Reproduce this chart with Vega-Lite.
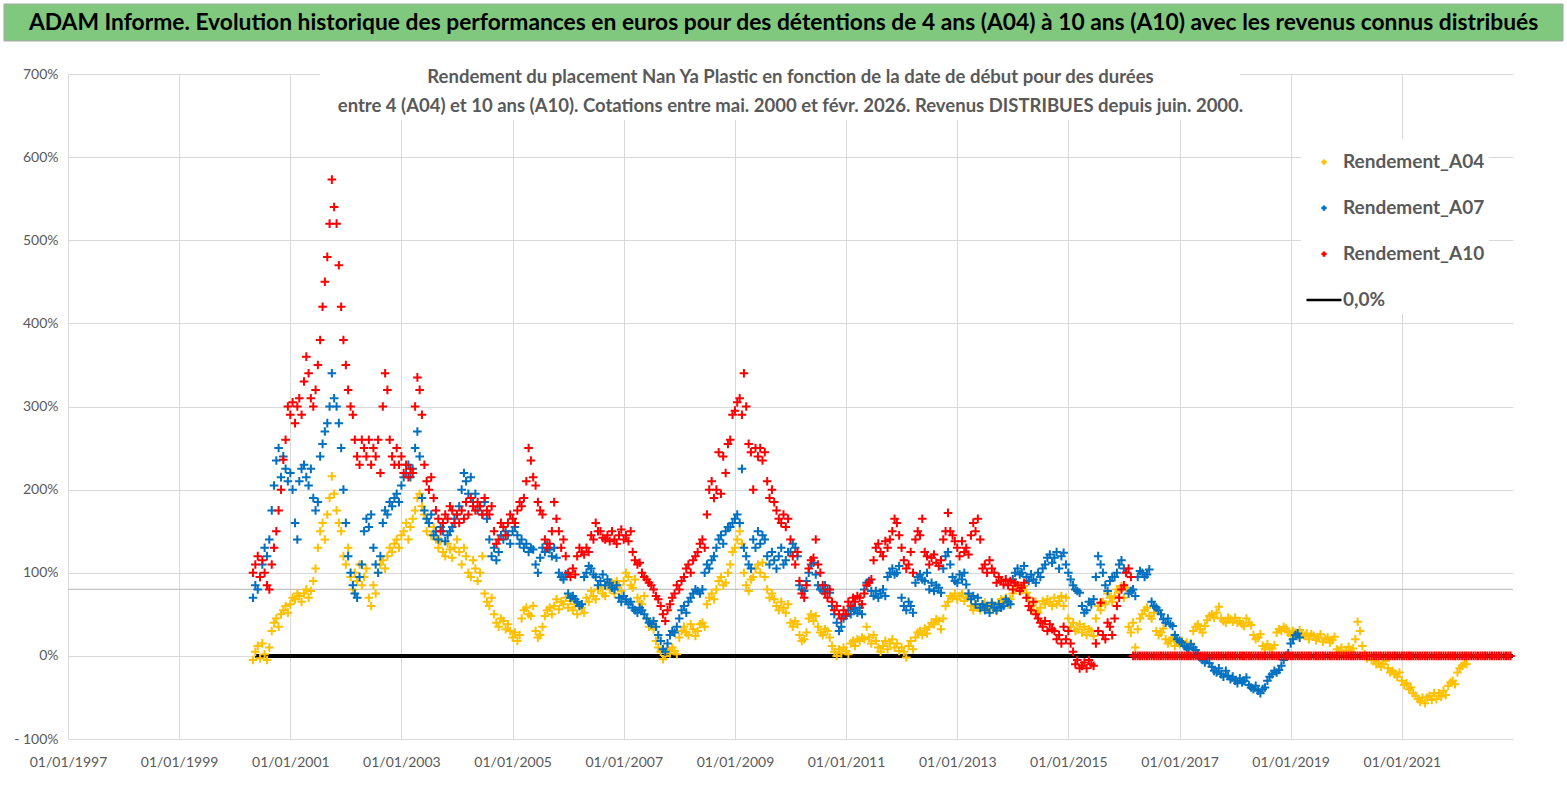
{
  "$schema": "https://vega.github.io/schema/vega-lite/v6.json",
  "background": "white",
  "padding": {"left": 3, "top": 3, "right": 5, "bottom": 5},
  "spacing": 25,
  "resolve": {"legend": {"color": "independent", "shape": "independent"}},
  "config": {
    "view": {"stroke": null},
    "font": "Lato",
    "axis": {"labelFont": "Lato", "labelColor": "#595959", "labelFontSize": 14, "gridColor": "#d9d9d9", "domain": false, "ticks": false}
  },
  "vconcat": [
    {
      "width": 1445,
      "height": 37,
      "data": {"values": [{}]},
      "layer": [
        {
          "mark": {"type": "rect", "fill": "#80C87E", "stroke": "#a6a6a6", "strokeWidth": 1},
          "encoding": {
            "x": {"datum": -0.0443, "type": "quantitative", "scale": {"domain": [0, 1], "nice": false, "zero": false}, "axis": null},
            "x2": {"datum": 1.0346}
          }
        },
        {
          "mark": {"type": "text", "font": "Lato", "fontSize": 22.8, "fontWeight": "bold", "color": "black", "baseline": "middle", "align": "center"},
          "encoding": {
            "x": {"datum": 0.4952, "type": "quantitative"},
            "text": {"value": "ADAM Informe. Evolution historique des performances en euros pour des détentions de 4 ans (A04) à 10 ans (A10) avec les revenus connus distribués"}
          }
        }
      ]
    },
    {
      "width": 1445,
      "height": 665,
      "title": {
        "text": ["Rendement du placement Nan Ya Plastic  en fonction de la date de début pour des durées", "entre 4 (A04) et 10 ans (A10). Cotations entre mai. 2000 et févr. 2026. Revenus DISTRIBUES depuis juin. 2000."],
        "anchor": "middle",
        "frame": "group",
        "offset": -48,
        "font": "Lato",
        "fontSize": 18.5,
        "fontWeight": "bold",
        "color": "#595959",
        "lineHeight": 29
      },
      "layer": [
        {
          "data": {"values": [{}]},
          "mark": {"type": "rule", "color": "#c4c4c4", "strokeWidth": 1.3},
          "encoding": {"y": {"datum": 80, "type": "quantitative"}}
        },
        {
          "data": {"values": [{}]},
          "mark": {"type": "rect", "fill": "white"},
          "encoding": {
            "x": {"datum": {"year": 2001, "month": 7, "date": 15, "utc": true}, "type": "temporal", "scale": {"type": "utc"}},
            "x2": {"datum": {"year": 2018, "month": 2, "date": 1, "utc": true}},
            "y": {"datum": 705, "type": "quantitative"},
            "y2": {"datum": 645}
          }
        },
        {
          "data": {"values": [{"d": "2000-05-15", "z": 0}, {"d": "2022-12-31", "z": 0}]},
          "mark": {"type": "line", "color": "black", "strokeWidth": 4},
          "encoding": {
            "x": {"field": "d", "type": "temporal", "scale": {"type": "utc"}},
            "y": {"field": "z", "type": "quantitative"}
          }
        },
        {
          "data": {"values": [
{"d":"2000-05-01","A04":-5,"A07":70,"A10":100},
{"d":"2000-05-16","A04":5,"A07":85,"A10":110},
{"d":"2000-06-01","A04":12,"A07":80,"A10":120},
{"d":"2000-06-16","A04":-3,"A07":95,"A10":95},
{"d":"2000-07-01","A04":15,"A07":110,"A10":115},
{"d":"2000-07-16","A04":2,"A07":130,"A10":100},
{"d":"2000-08-01","A04":-5,"A07":120,"A10":85},
{"d":"2000-08-16","A04":10,"A07":140,"A10":80},
{"d":"2000-09-01","A04":30,"A07":175,"A10":110},
{"d":"2000-09-16","A04":40,"A07":205,"A10":130},
{"d":"2000-10-01","A04":45,"A07":235,"A10":150},
{"d":"2000-10-16","A04":35,"A07":250,"A10":175},
{"d":"2000-11-01","A04":50,"A07":215,"A10":200},
{"d":"2000-11-16","A04":55,"A07":240,"A10":236},
{"d":"2000-12-01","A04":60,"A07":225,"A10":260},
{"d":"2000-12-16","A04":52,"A07":210,"A10":300},
{"d":"2001-01-01","A04":62,"A07":220,"A10":290},
{"d":"2001-01-16","A04":70,"A07":200,"A10":305},
{"d":"2001-02-01","A04":68,"A07":160,"A10":280},
{"d":"2001-02-16","A04":75,"A07":140,"A10":300},
{"d":"2001-03-01","A04":72,"A07":210,"A10":310},
{"d":"2001-03-16","A04":65,"A07":225,"A10":290},
{"d":"2001-04-01","A04":75,"A07":230,"A10":330},
{"d":"2001-04-16","A04":80,"A07":215,"A10":360},
{"d":"2001-05-01","A04":70,"A07":205,"A10":340},
{"d":"2001-05-16","A04":78,"A07":225,"A10":310},
{"d":"2001-06-01","A04":90,"A07":190,"A10":300},
{"d":"2001-06-16","A04":105,"A07":175,"A10":320},
{"d":"2001-07-01","A04":130,"A07":185,"A10":350},
{"d":"2001-07-16","A04":150,"A07":240,"A10":380},
{"d":"2001-08-01","A04":160,"A07":255,"A10":420},
{"d":"2001-08-16","A04":140,"A07":270,"A10":450},
{"d":"2001-09-01","A04":170,"A07":280,"A10":480},
{"d":"2001-09-16","A04":190,"A07":300,"A10":520},
{"d":"2001-10-01","A04":216,"A07":340,"A10":573},
{"d":"2001-10-16","A04":195,"A07":310,"A10":540},
{"d":"2001-11-01","A04":175,"A07":300,"A10":520},
{"d":"2001-11-16","A04":160,"A07":280,"A10":470},
{"d":"2001-12-01","A04":150,"A07":250,"A10":420},
{"d":"2001-12-16","A04":120,"A07":200,"A10":380},
{"d":"2002-01-01","A04":110,"A07":160,"A10":350},
{"d":"2002-01-16","A04":130,"A07":120,"A10":320},
{"d":"2002-02-01","A04":95,"A07":100,"A10":300},
{"d":"2002-02-16","A04":80,"A07":85,"A10":290},
{"d":"2002-03-01","A04":100,"A07":75,"A10":260},
{"d":"2002-03-16","A04":90,"A07":70,"A10":240},
{"d":"2002-04-01","A04":110,"A07":95,"A10":230},
{"d":"2002-04-16","A04":85,"A07":110,"A10":260},
{"d":"2002-05-01","A04":95,"A07":150,"A10":250},
{"d":"2002-05-16","A04":105,"A07":165,"A10":240},
{"d":"2002-06-01","A04":70,"A07":155,"A10":260},
{"d":"2002-06-16","A04":60,"A07":170,"A10":230},
{"d":"2002-07-01","A04":85,"A07":130,"A10":250},
{"d":"2002-07-16","A04":75,"A07":110,"A10":240},
{"d":"2002-08-01","A04":100,"A07":100,"A10":260},
{"d":"2002-08-16","A04":110,"A07":120,"A10":220},
{"d":"2002-09-01","A04":115,"A07":160,"A10":300},
{"d":"2002-09-16","A04":105,"A07":175,"A10":340},
{"d":"2002-10-01","A04":120,"A07":170,"A10":320},
{"d":"2002-10-16","A04":130,"A07":185,"A10":260},
{"d":"2002-11-01","A04":125,"A07":180,"A10":240},
{"d":"2002-11-16","A04":135,"A07":190,"A10":230},
{"d":"2002-12-01","A04":140,"A07":195,"A10":250},
{"d":"2002-12-16","A04":130,"A07":185,"A10":230},
{"d":"2003-01-01","A04":145,"A07":205,"A10":240},
{"d":"2003-01-16","A04":150,"A07":215,"A10":220},
{"d":"2003-02-01","A04":160,"A07":220,"A10":230},
{"d":"2003-02-16","A04":140,"A07":230,"A10":215},
{"d":"2003-03-01","A04":155,"A07":215,"A10":225},
{"d":"2003-03-16","A04":165,"A07":225,"A10":220},
{"d":"2003-04-01","A04":175,"A07":250,"A10":300},
{"d":"2003-04-16","A04":190,"A07":270,"A10":335},
{"d":"2003-05-01","A04":195,"A07":240,"A10":320},
{"d":"2003-05-16","A04":180,"A07":190,"A10":290},
{"d":"2003-06-01","A04":170,"A07":175,"A10":230},
{"d":"2003-06-16","A04":150,"A07":165,"A10":210},
{"d":"2003-07-01","A04":160,"A07":160,"A10":200},
{"d":"2003-07-16","A04":145,"A07":170,"A10":215},
{"d":"2003-08-01","A04":155,"A07":145,"A10":190},
{"d":"2003-08-16","A04":140,"A07":150,"A10":175},
{"d":"2003-09-01","A04":130,"A07":140,"A10":165},
{"d":"2003-09-16","A04":138,"A07":155,"A10":150},
{"d":"2003-10-01","A04":125,"A07":150,"A10":160},
{"d":"2003-10-16","A04":120,"A07":138,"A10":170},
{"d":"2003-11-01","A04":135,"A07":145,"A10":165},
{"d":"2003-11-16","A04":128,"A07":150,"A10":180},
{"d":"2003-12-01","A04":118,"A07":155,"A10":175},
{"d":"2003-12-16","A04":130,"A07":165,"A10":160},
{"d":"2004-01-01","A04":140,"A07":170,"A10":170},
{"d":"2004-01-16","A04":125,"A07":180,"A10":160},
{"d":"2004-02-01","A04":110,"A07":200,"A10":175},
{"d":"2004-02-16","A04":130,"A07":220,"A10":165},
{"d":"2004-03-01","A04":120,"A07":210,"A10":185},
{"d":"2004-03-16","A04":100,"A07":195,"A10":170},
{"d":"2004-04-01","A04":95,"A07":215,"A10":190},
{"d":"2004-04-16","A04":115,"A07":185,"A10":180},
{"d":"2004-05-01","A04":105,"A07":195,"A10":175},
{"d":"2004-05-16","A04":90,"A07":175,"A10":185},
{"d":"2004-06-01","A04":100,"A07":180,"A10":180},
{"d":"2004-06-16","A04":120,"A07":170,"A10":170},
{"d":"2004-07-01","A04":75,"A07":185,"A10":190},
{"d":"2004-07-16","A04":65,"A07":165,"A10":175},
{"d":"2004-08-01","A04":60,"A07":140,"A10":170},
{"d":"2004-08-16","A04":70,"A07":120,"A10":180},
{"d":"2004-09-01","A04":50,"A07":130,"A10":150},
{"d":"2004-09-16","A04":40,"A07":115,"A10":135},
{"d":"2004-10-01","A04":35,"A07":125,"A10":140},
{"d":"2004-10-16","A04":45,"A07":145,"A10":160},
{"d":"2004-11-01","A04":42,"A07":140,"A10":155},
{"d":"2004-11-16","A04":32,"A07":150,"A10":145},
{"d":"2004-12-01","A04":38,"A07":145,"A10":160},
{"d":"2004-12-16","A04":30,"A07":135,"A10":170},
{"d":"2005-01-01","A04":22,"A07":150,"A10":165},
{"d":"2005-01-16","A04":28,"A07":155,"A10":160},
{"d":"2005-02-01","A04":18,"A07":145,"A10":175},
{"d":"2005-02-16","A04":25,"A07":135,"A10":185},
{"d":"2005-03-01","A04":45,"A07":140,"A10":180},
{"d":"2005-03-16","A04":55,"A07":130,"A10":190},
{"d":"2005-04-01","A04":58,"A07":135,"A10":210},
{"d":"2005-04-16","A04":50,"A07":125,"A10":250},
{"d":"2005-05-01","A04":48,"A07":130,"A10":235},
{"d":"2005-05-16","A04":60,"A07":128,"A10":215},
{"d":"2005-06-01","A04":30,"A07":110,"A10":205},
{"d":"2005-06-16","A04":22,"A07":100,"A10":185},
{"d":"2005-07-01","A04":25,"A07":118,"A10":175},
{"d":"2005-07-16","A04":35,"A07":130,"A10":170},
{"d":"2005-08-01","A04":48,"A07":125,"A10":140},
{"d":"2005-08-16","A04":55,"A07":135,"A10":130},
{"d":"2005-09-01","A04":58,"A07":128,"A10":135},
{"d":"2005-09-16","A04":50,"A07":120,"A10":150},
{"d":"2005-10-01","A04":60,"A07":130,"A10":185},
{"d":"2005-10-16","A04":68,"A07":118,"A10":165},
{"d":"2005-11-01","A04":56,"A07":100,"A10":150},
{"d":"2005-11-16","A04":65,"A07":95,"A10":130},
{"d":"2005-12-01","A04":62,"A07":92,"A10":140},
{"d":"2005-12-16","A04":70,"A07":98,"A10":120},
{"d":"2006-01-01","A04":58,"A07":75,"A10":100},
{"d":"2006-01-16","A04":66,"A07":70,"A10":95},
{"d":"2006-02-01","A04":55,"A07":72,"A10":105},
{"d":"2006-02-16","A04":62,"A07":68,"A10":98},
{"d":"2006-03-01","A04":50,"A07":65,"A10":120},
{"d":"2006-03-16","A04":60,"A07":60,"A10":130},
{"d":"2006-04-01","A04":58,"A07":62,"A10":125},
{"d":"2006-04-16","A04":52,"A07":95,"A10":122},
{"d":"2006-05-01","A04":70,"A07":100,"A10":130},
{"d":"2006-05-16","A04":65,"A07":108,"A10":125},
{"d":"2006-06-01","A04":78,"A07":105,"A10":145},
{"d":"2006-06-16","A04":72,"A07":98,"A10":140},
{"d":"2006-07-01","A04":68,"A07":95,"A10":160},
{"d":"2006-07-16","A04":80,"A07":85,"A10":150},
{"d":"2006-08-01","A04":82,"A07":90,"A10":150},
{"d":"2006-08-16","A04":75,"A07":98,"A10":142},
{"d":"2006-09-01","A04":72,"A07":85,"A10":140},
{"d":"2006-09-16","A04":85,"A07":92,"A10":145},
{"d":"2006-10-01","A04":80,"A07":88,"A10":138},
{"d":"2006-10-16","A04":88,"A07":82,"A10":150},
{"d":"2006-11-01","A04":75,"A07":80,"A10":140},
{"d":"2006-11-16","A04":90,"A07":85,"A10":135},
{"d":"2006-12-01","A04":85,"A07":70,"A10":145},
{"d":"2006-12-16","A04":78,"A07":65,"A10":152},
{"d":"2007-01-01","A04":90,"A07":72,"A10":140},
{"d":"2007-01-16","A04":100,"A07":68,"A10":145},
{"d":"2007-02-01","A04":95,"A07":62,"A10":138},
{"d":"2007-02-16","A04":85,"A07":65,"A10":150},
{"d":"2007-03-01","A04":82,"A07":58,"A10":125},
{"d":"2007-03-16","A04":92,"A07":55,"A10":115},
{"d":"2007-04-01","A04":70,"A07":52,"A10":110},
{"d":"2007-04-16","A04":65,"A07":58,"A10":112},
{"d":"2007-05-01","A04":62,"A07":55,"A10":100},
{"d":"2007-05-16","A04":72,"A07":50,"A10":95},
{"d":"2007-06-01","A04":45,"A07":45,"A10":92},
{"d":"2007-06-16","A04":35,"A07":40,"A10":88},
{"d":"2007-07-01","A04":40,"A07":38,"A10":85},
{"d":"2007-07-16","A04":32,"A07":42,"A10":80},
{"d":"2007-08-01","A04":18,"A07":35,"A10":72},
{"d":"2007-08-16","A04":10,"A07":25,"A10":68},
{"d":"2007-09-01","A04":5,"A07":18,"A10":60},
{"d":"2007-09-16","A04":-4,"A07":8,"A10":50},
{"d":"2007-10-01","A04":0,"A07":5,"A10":42},
{"d":"2007-10-16","A04":8,"A07":15,"A10":55},
{"d":"2007-11-01","A04":3,"A07":25,"A10":62},
{"d":"2007-11-16","A04":10,"A07":30,"A10":70},
{"d":"2007-12-01","A04":6,"A07":28,"A10":75},
{"d":"2007-12-16","A04":2,"A07":35,"A10":85},
{"d":"2008-01-01","A04":22,"A07":45,"A10":80},
{"d":"2008-01-16","A04":30,"A07":55,"A10":90},
{"d":"2008-02-01","A04":35,"A07":60,"A10":95},
{"d":"2008-02-16","A04":28,"A07":52,"A10":105},
{"d":"2008-03-01","A04":25,"A07":65,"A10":110},
{"d":"2008-03-16","A04":38,"A07":70,"A10":100},
{"d":"2008-04-01","A04":32,"A07":75,"A10":115},
{"d":"2008-04-16","A04":24,"A07":80,"A10":120},
{"d":"2008-05-01","A04":30,"A07":78,"A10":125},
{"d":"2008-05-16","A04":38,"A07":75,"A10":135},
{"d":"2008-06-01","A04":40,"A07":80,"A10":140},
{"d":"2008-06-16","A04":35,"A07":100,"A10":130},
{"d":"2008-07-01","A04":62,"A07":110,"A10":170},
{"d":"2008-07-16","A04":70,"A07":105,"A10":200},
{"d":"2008-08-01","A04":75,"A07":115,"A10":210},
{"d":"2008-08-16","A04":68,"A07":120,"A10":190},
{"d":"2008-09-01","A04":80,"A07":130,"A10":200},
{"d":"2008-09-16","A04":90,"A07":140,"A10":245},
{"d":"2008-10-01","A04":95,"A07":145,"A10":195},
{"d":"2008-10-16","A04":85,"A07":135,"A10":240},
{"d":"2008-11-01","A04":88,"A07":150,"A10":220},
{"d":"2008-11-16","A04":100,"A07":155,"A10":255},
{"d":"2008-12-01","A04":110,"A07":155,"A10":260},
{"d":"2008-12-16","A04":125,"A07":160,"A10":290},
{"d":"2009-01-01","A04":130,"A07":165,"A10":295},
{"d":"2009-01-16","A04":140,"A07":170,"A10":305},
{"d":"2009-02-01","A04":150,"A07":160,"A10":310},
{"d":"2009-02-16","A04":135,"A07":225,"A10":290},
{"d":"2009-03-01","A04":100,"A07":130,"A10":340},
{"d":"2009-03-16","A04":85,"A07":120,"A10":300},
{"d":"2009-04-01","A04":78,"A07":110,"A10":255},
{"d":"2009-04-16","A04":92,"A07":105,"A10":245},
{"d":"2009-05-01","A04":95,"A07":140,"A10":200},
{"d":"2009-05-16","A04":105,"A07":130,"A10":250},
{"d":"2009-06-01","A04":110,"A07":150,"A10":240},
{"d":"2009-06-16","A04":100,"A07":135,"A10":250},
{"d":"2009-07-01","A04":112,"A07":145,"A10":235},
{"d":"2009-07-16","A04":95,"A07":140,"A10":245},
{"d":"2009-08-01","A04":80,"A07":120,"A10":210},
{"d":"2009-08-16","A04":70,"A07":110,"A10":190},
{"d":"2009-09-01","A04":75,"A07":125,"A10":200},
{"d":"2009-09-16","A04":68,"A07":115,"A10":185},
{"d":"2009-10-01","A04":60,"A07":105,"A10":175},
{"d":"2009-10-16","A04":55,"A07":120,"A10":165},
{"d":"2009-11-01","A04":65,"A07":130,"A10":160},
{"d":"2009-11-16","A04":58,"A07":110,"A10":170},
{"d":"2009-12-01","A04":52,"A07":115,"A10":155},
{"d":"2009-12-16","A04":62,"A07":125,"A10":165},
{"d":"2010-01-01","A04":40,"A07":125,"A10":140},
{"d":"2010-01-16","A04":35,"A07":135,"A10":120},
{"d":"2010-02-01","A04":42,"A07":130,"A10":110},
{"d":"2010-02-16","A04":38,"A07":120,"A10":125},
{"d":"2010-03-01","A04":25,"A07":85,"A10":90},
{"d":"2010-03-16","A04":18,"A07":80,"A10":75},
{"d":"2010-04-01","A04":20,"A07":78,"A10":70},
{"d":"2010-04-16","A04":28,"A07":90,"A10":85},
{"d":"2010-05-01","A04":45,"A07":100,"A10":105},
{"d":"2010-05-16","A04":50,"A07":110,"A10":115},
{"d":"2010-06-01","A04":42,"A07":112,"A10":118},
{"d":"2010-06-16","A04":48,"A07":98,"A10":140},
{"d":"2010-07-01","A04":35,"A07":85,"A10":110},
{"d":"2010-07-16","A04":28,"A07":80,"A10":100},
{"d":"2010-08-01","A04":25,"A07":78,"A10":85},
{"d":"2010-08-16","A04":32,"A07":85,"A10":75},
{"d":"2010-09-01","A04":30,"A07":80,"A10":70},
{"d":"2010-09-16","A04":22,"A07":76,"A10":80},
{"d":"2010-10-01","A04":12,"A07":60,"A10":65},
{"d":"2010-10-16","A04":5,"A07":50,"A10":55},
{"d":"2010-11-01","A04":0,"A07":40,"A10":60},
{"d":"2010-11-16","A04":8,"A07":30,"A10":50},
{"d":"2010-12-01","A04":3,"A07":35,"A10":45},
{"d":"2010-12-16","A04":10,"A07":45,"A10":55},
{"d":"2011-01-01","A04":6,"A07":48,"A10":50},
{"d":"2011-01-16","A04":2,"A07":55,"A10":65},
{"d":"2011-02-01","A04":15,"A07":50,"A10":60},
{"d":"2011-02-16","A04":18,"A07":58,"A10":70},
{"d":"2011-03-01","A04":12,"A07":55,"A10":65},
{"d":"2011-03-16","A04":20,"A07":52,"A10":72},
{"d":"2011-04-01","A04":18,"A07":58,"A10":70},
{"d":"2011-04-16","A04":22,"A07":50,"A10":62},
{"d":"2011-05-01","A04":20,"A07":80,"A10":75},
{"d":"2011-05-16","A04":35,"A07":88,"A10":85},
{"d":"2011-06-01","A04":22,"A07":90,"A10":88},
{"d":"2011-06-16","A04":15,"A07":78,"A10":92},
{"d":"2011-07-01","A04":25,"A07":72,"A10":115},
{"d":"2011-07-16","A04":18,"A07":78,"A10":130},
{"d":"2011-08-01","A04":10,"A07":70,"A10":135},
{"d":"2011-08-16","A04":5,"A07":75,"A10":125},
{"d":"2011-09-01","A04":12,"A07":80,"A10":120},
{"d":"2011-09-16","A04":18,"A07":72,"A10":138},
{"d":"2011-10-01","A04":8,"A07":95,"A10":130},
{"d":"2011-10-16","A04":15,"A07":100,"A10":140},
{"d":"2011-11-01","A04":20,"A07":105,"A10":150},
{"d":"2011-11-16","A04":10,"A07":98,"A10":165},
{"d":"2011-12-01","A04":15,"A07":100,"A10":160},
{"d":"2011-12-16","A04":6,"A07":108,"A10":145},
{"d":"2012-01-01","A04":10,"A07":70,"A10":130},
{"d":"2012-01-16","A04":5,"A07":60,"A10":115},
{"d":"2012-02-01","A04":-2,"A07":55,"A10":105},
{"d":"2012-02-16","A04":12,"A07":65,"A10":110},
{"d":"2012-03-01","A04":18,"A07":60,"A10":125},
{"d":"2012-03-16","A04":8,"A07":52,"A10":100},
{"d":"2012-04-01","A04":22,"A07":88,"A10":140},
{"d":"2012-04-16","A04":28,"A07":95,"A10":150},
{"d":"2012-05-01","A04":30,"A07":98,"A10":145},
{"d":"2012-05-16","A04":25,"A07":92,"A10":165},
{"d":"2012-06-01","A04":33,"A07":90,"A10":125},
{"d":"2012-06-16","A04":27,"A07":100,"A10":120},
{"d":"2012-07-01","A04":35,"A07":80,"A10":110},
{"d":"2012-07-16","A04":40,"A07":88,"A10":118},
{"d":"2012-08-01","A04":38,"A07":78,"A10":122},
{"d":"2012-08-16","A04":44,"A07":85,"A10":112},
{"d":"2012-09-01","A04":42,"A07":82,"A10":108},
{"d":"2012-09-16","A04":32,"A07":76,"A10":115},
{"d":"2012-10-01","A04":45,"A07":105,"A10":140},
{"d":"2012-10-16","A04":60,"A07":120,"A10":150},
{"d":"2012-11-01","A04":65,"A07":125,"A10":172},
{"d":"2012-11-16","A04":72,"A07":110,"A10":150},
{"d":"2012-12-01","A04":70,"A07":95,"A10":145},
{"d":"2012-12-16","A04":75,"A07":90,"A10":138},
{"d":"2013-01-01","A04":68,"A07":88,"A10":130},
{"d":"2013-01-16","A04":72,"A07":98,"A10":120},
{"d":"2013-02-01","A04":75,"A07":92,"A10":138},
{"d":"2013-02-16","A04":66,"A07":100,"A10":125},
{"d":"2013-03-01","A04":70,"A07":86,"A10":130},
{"d":"2013-03-16","A04":74,"A07":75,"A10":122},
{"d":"2013-04-01","A04":60,"A07":68,"A10":145},
{"d":"2013-04-16","A04":55,"A07":72,"A10":160},
{"d":"2013-05-01","A04":62,"A07":62,"A10":150},
{"d":"2013-05-16","A04":58,"A07":70,"A10":165},
{"d":"2013-06-01","A04":55,"A07":58,"A10":140},
{"d":"2013-06-16","A04":60,"A07":62,"A10":105},
{"d":"2013-07-01","A04":64,"A07":55,"A10":110},
{"d":"2013-07-16","A04":58,"A07":60,"A10":100},
{"d":"2013-08-01","A04":56,"A07":52,"A10":115},
{"d":"2013-08-16","A04":62,"A07":64,"A10":105},
{"d":"2013-09-01","A04":60,"A07":58,"A10":100},
{"d":"2013-09-16","A04":54,"A07":55,"A10":88},
{"d":"2013-10-01","A04":64,"A07":62,"A10":95},
{"d":"2013-10-16","A04":68,"A07":58,"A10":90},
{"d":"2013-11-01","A04":66,"A07":60,"A10":86},
{"d":"2013-11-16","A04":70,"A07":68,"A10":92},
{"d":"2013-12-01","A04":62,"A07":65,"A10":85},
{"d":"2013-12-16","A04":68,"A07":62,"A10":90},
{"d":"2014-01-01","A04":75,"A07":92,"A10":80},
{"d":"2014-01-16","A04":80,"A07":100,"A10":88},
{"d":"2014-02-01","A04":85,"A07":105,"A10":85},
{"d":"2014-02-16","A04":78,"A07":98,"A10":78},
{"d":"2014-03-01","A04":80,"A07":100,"A10":82},
{"d":"2014-03-16","A04":84,"A07":108,"A10":88},
{"d":"2014-04-01","A04":76,"A07":95,"A10":70},
{"d":"2014-04-16","A04":70,"A07":90,"A10":60},
{"d":"2014-05-01","A04":60,"A07":98,"A10":55},
{"d":"2014-05-16","A04":55,"A07":92,"A10":65},
{"d":"2014-06-01","A04":65,"A07":88,"A10":50},
{"d":"2014-06-16","A04":52,"A07":100,"A10":45},
{"d":"2014-07-01","A04":58,"A07":95,"A10":40},
{"d":"2014-07-16","A04":66,"A07":105,"A10":35},
{"d":"2014-08-01","A04":62,"A07":110,"A10":42},
{"d":"2014-08-16","A04":68,"A07":118,"A10":30},
{"d":"2014-09-01","A04":65,"A07":122,"A10":38},
{"d":"2014-09-16","A04":60,"A07":112,"A10":32},
{"d":"2014-10-01","A04":70,"A07":118,"A10":30},
{"d":"2014-10-16","A04":62,"A07":125,"A10":20},
{"d":"2014-11-01","A04":66,"A07":105,"A10":25},
{"d":"2014-11-16","A04":72,"A07":120,"A10":15},
{"d":"2014-12-01","A04":60,"A07":124,"A10":35},
{"d":"2014-12-16","A04":70,"A07":110,"A10":20},
{"d":"2015-01-01","A04":45,"A07":100,"A10":30},
{"d":"2015-01-16","A04":35,"A07":92,"A10":15},
{"d":"2015-02-01","A04":40,"A07":85,"A10":5},
{"d":"2015-02-16","A04":30,"A07":80,"A10":-10},
{"d":"2015-03-01","A04":32,"A07":78,"A10":-5},
{"d":"2015-03-16","A04":38,"A07":76,"A10":-15},
{"d":"2015-04-01","A04":28,"A07":60,"A10":-12},
{"d":"2015-04-16","A04":35,"A07":52,"A10":-8},
{"d":"2015-05-01","A04":25,"A07":55,"A10":-15},
{"d":"2015-05-16","A04":32,"A07":65,"A10":-5},
{"d":"2015-06-01","A04":30,"A07":62,"A10":-10},
{"d":"2015-06-16","A04":24,"A07":68,"A10":-12},
{"d":"2015-07-01","A04":45,"A07":95,"A10":15},
{"d":"2015-07-16","A04":60,"A07":120,"A10":30},
{"d":"2015-08-01","A04":55,"A07":110,"A10":64},
{"d":"2015-08-16","A04":65,"A07":100,"A10":25},
{"d":"2015-09-01","A04":62,"A07":85,"A10":20},
{"d":"2015-09-16","A04":75,"A07":78,"A10":40},
{"d":"2015-10-01","A04":70,"A07":90,"A10":35},
{"d":"2015-10-16","A04":65,"A07":95,"A10":25},
{"d":"2015-11-01","A04":72,"A07":95,"A10":45},
{"d":"2015-11-16","A04":80,"A07":100,"A10":60},
{"d":"2015-12-01","A04":78,"A07":110,"A10":70},
{"d":"2015-12-16","A04":84,"A07":115,"A10":80},
{"d":"2016-01-01","A04":70,"A07":105,"A10":85},
{"d":"2016-01-16","A04":82,"A07":100,"A10":100},
{"d":"2016-02-01","A04":35,"A07":75,"A10":105},
{"d":"2016-02-16","A04":28,"A07":78,"A10":95},
{"d":"2016-03-01","A04":40,"A07":80,"A10":0},
{"d":"2016-03-16","A04":10,"A07":72,"A10":0},
{"d":"2016-04-01","A04":32,"A07":95,"A10":0},
{"d":"2016-04-16","A04":45,"A07":102,"A10":0},
{"d":"2016-05-01","A04":50,"A07":100,"A10":0},
{"d":"2016-05-16","A04":55,"A07":95,"A10":0},
{"d":"2016-06-01","A04":58,"A07":98,"A10":0},
{"d":"2016-06-16","A04":48,"A07":104,"A10":0},
{"d":"2016-07-01","A04":45,"A07":65,"A10":0},
{"d":"2016-07-16","A04":52,"A07":60,"A10":0},
{"d":"2016-08-01","A04":30,"A07":58,"A10":0},
{"d":"2016-08-16","A04":25,"A07":55,"A10":0},
{"d":"2016-09-01","A04":28,"A07":50,"A10":0},
{"d":"2016-09-16","A04":33,"A07":44,"A10":0},
{"d":"2016-10-01","A04":20,"A07":40,"A10":0},
{"d":"2016-10-16","A04":15,"A07":45,"A10":0},
{"d":"2016-11-01","A04":18,"A07":38,"A10":0},
{"d":"2016-11-16","A04":22,"A07":36,"A10":0},
{"d":"2016-12-01","A04":12,"A07":25,"A10":0},
{"d":"2016-12-16","A04":16,"A07":20,"A10":0},
{"d":"2017-01-01","A04":14,"A07":18,"A10":0},
{"d":"2017-01-16","A04":18,"A07":16,"A10":0},
{"d":"2017-02-01","A04":12,"A07":12,"A10":0},
{"d":"2017-02-16","A04":16,"A07":10,"A10":0},
{"d":"2017-03-01","A04":10,"A07":8,"A10":0},
{"d":"2017-03-16","A04":15,"A07":14,"A10":0},
{"d":"2017-04-01","A04":30,"A07":10,"A10":0},
{"d":"2017-04-16","A04":35,"A07":7,"A10":0},
{"d":"2017-05-01","A04":38,"A07":3,"A10":0},
{"d":"2017-05-16","A04":32,"A07":-2,"A10":0},
{"d":"2017-06-01","A04":28,"A07":-5,"A10":0},
{"d":"2017-06-16","A04":36,"A07":-8,"A10":0},
{"d":"2017-07-01","A04":43,"A07":-3,"A10":0},
{"d":"2017-07-16","A04":48,"A07":-9,"A10":0},
{"d":"2017-08-01","A04":50,"A07":-13,"A10":0},
{"d":"2017-08-16","A04":46,"A07":-18,"A10":0},
{"d":"2017-09-01","A04":52,"A07":-20,"A10":0},
{"d":"2017-09-16","A04":59,"A07":-15,"A10":0},
{"d":"2017-10-01","A04":45,"A07":-22,"A10":0},
{"d":"2017-10-16","A04":42,"A07":-25,"A10":0},
{"d":"2017-11-01","A04":40,"A07":-18,"A10":0},
{"d":"2017-11-16","A04":46,"A07":-24,"A10":0},
{"d":"2017-12-01","A04":44,"A07":-28,"A10":0},
{"d":"2017-12-16","A04":41,"A07":-25,"A10":0},
{"d":"2018-01-01","A04":46,"A07":-30,"A10":0},
{"d":"2018-01-16","A04":40,"A07":-33,"A10":0},
{"d":"2018-02-01","A04":42,"A07":-27,"A10":0},
{"d":"2018-02-16","A04":38,"A07":-32,"A10":0},
{"d":"2018-03-01","A04":36,"A07":-30,"A10":0},
{"d":"2018-03-16","A04":45,"A07":-26,"A10":0},
{"d":"2018-04-01","A04":40,"A07":-35,"A10":0},
{"d":"2018-04-16","A04":37,"A07":-38,"A10":0},
{"d":"2018-05-01","A04":25,"A07":-40,"A10":0},
{"d":"2018-05-16","A04":20,"A07":-36,"A10":0},
{"d":"2018-06-01","A04":22,"A07":-42,"A10":0},
{"d":"2018-06-16","A04":26,"A07":-45,"A10":0},
{"d":"2018-07-01","A04":12,"A07":-40,"A10":0},
{"d":"2018-07-16","A04":8,"A07":-38,"A10":0},
{"d":"2018-08-01","A04":14,"A07":-30,"A10":0},
{"d":"2018-08-16","A04":10,"A07":-25,"A10":0},
{"d":"2018-09-01","A04":9,"A07":-22,"A10":0},
{"d":"2018-09-16","A04":13,"A07":-18,"A10":0},
{"d":"2018-10-01","A04":28,"A07":-20,"A10":0},
{"d":"2018-10-16","A04":32,"A07":-17,"A10":0},
{"d":"2018-11-01","A04":30,"A07":-12,"A10":0},
{"d":"2018-11-16","A04":35,"A07":-5,"A10":0},
{"d":"2018-12-01","A04":33,"A07":0,"A10":0},
{"d":"2018-12-16","A04":28,"A07":3,"A10":0},
{"d":"2019-01-01","A04":25,"A07":15,"A10":0},
{"d":"2019-01-16","A04":30,"A07":20,"A10":0},
{"d":"2019-02-01","A04":28,"A07":25,"A10":0},
{"d":"2019-02-16","A04":24,"A07":27,"A10":0},
{"d":"2019-03-01","A04":31,"A07":22,"A10":0},
{"d":"2019-03-16","A04":26,"A10":0},
{"d":"2019-04-01","A04":24,"A10":0},
{"d":"2019-04-16","A04":27,"A10":0},
{"d":"2019-05-01","A04":20,"A10":0},
{"d":"2019-05-16","A04":26,"A10":0},
{"d":"2019-06-01","A04":24,"A10":0},
{"d":"2019-06-16","A04":19,"A10":0},
{"d":"2019-07-01","A04":22,"A10":0},
{"d":"2019-07-16","A04":26,"A10":0},
{"d":"2019-08-01","A04":17,"A10":0},
{"d":"2019-08-16","A04":20,"A10":0},
{"d":"2019-09-01","A04":22,"A10":0},
{"d":"2019-09-16","A04":16,"A10":0},
{"d":"2019-10-01","A04":19,"A10":0},
{"d":"2019-10-16","A04":23,"A10":0},
{"d":"2019-11-01","A04":8,"A10":0},
{"d":"2019-11-16","A04":5,"A10":0},
{"d":"2019-12-01","A04":10,"A10":0},
{"d":"2019-12-16","A04":3,"A10":0},
{"d":"2020-01-01","A04":6,"A10":0},
{"d":"2020-01-16","A04":11,"A10":0},
{"d":"2020-02-01","A04":5,"A10":0},
{"d":"2020-02-16","A04":9,"A10":0},
{"d":"2020-03-01","A04":20,"A10":0},
{"d":"2020-03-16","A04":41,"A10":0},
{"d":"2020-04-01","A04":30,"A10":0},
{"d":"2020-04-16","A04":12,"A10":0},
{"d":"2020-05-01","A04":2,"A10":0},
{"d":"2020-05-16","A04":-3,"A10":0},
{"d":"2020-06-01","A04":0,"A10":0},
{"d":"2020-06-16","A04":-5,"A10":0},
{"d":"2020-07-01","A04":-5,"A10":0},
{"d":"2020-07-16","A04":-10,"A10":0},
{"d":"2020-08-01","A04":-8,"A10":0},
{"d":"2020-08-16","A04":-13,"A10":0},
{"d":"2020-09-01","A04":-10,"A10":0},
{"d":"2020-09-16","A04":-6,"A10":0},
{"d":"2020-10-01","A04":-15,"A10":0},
{"d":"2020-10-16","A04":-20,"A10":0},
{"d":"2020-11-01","A04":-18,"A10":0},
{"d":"2020-11-16","A04":-22,"A10":0},
{"d":"2020-12-01","A04":-25,"A10":0},
{"d":"2020-12-16","A04":-20,"A10":0},
{"d":"2021-01-01","A04":-30,"A10":0},
{"d":"2021-01-16","A04":-35,"A10":0},
{"d":"2021-02-01","A04":-33,"A10":0},
{"d":"2021-02-16","A04":-40,"A10":0},
{"d":"2021-03-01","A04":-38,"A10":0},
{"d":"2021-03-16","A04":-45,"A10":0},
{"d":"2021-04-01","A04":-48,"A10":0},
{"d":"2021-04-16","A04":-52,"A10":0},
{"d":"2021-05-01","A04":-55,"A10":0},
{"d":"2021-05-16","A04":-50,"A10":0},
{"d":"2021-06-01","A04":-57,"A10":0},
{"d":"2021-06-16","A04":-50,"A10":0},
{"d":"2021-07-01","A04":-48,"A10":0},
{"d":"2021-07-16","A04":-53,"A10":0},
{"d":"2021-08-01","A04":-45,"A10":0},
{"d":"2021-08-16","A04":-52,"A10":0},
{"d":"2021-09-01","A04":-45,"A10":0},
{"d":"2021-09-16","A04":-49,"A10":0},
{"d":"2021-10-01","A04":-42,"A10":0},
{"d":"2021-10-16","A04":-47,"A10":0},
{"d":"2021-11-01","A04":-36,"A10":0},
{"d":"2021-11-16","A04":-32,"A10":0},
{"d":"2021-12-01","A04":-30,"A10":0},
{"d":"2021-12-16","A04":-34,"A10":0},
{"d":"2022-01-01","A04":-20,"A10":0},
{"d":"2022-01-16","A04":-15,"A10":0},
{"d":"2022-02-01","A04":-12,"A10":0},
{"d":"2022-02-16","A04":-9,"A10":0},
{"d":"2022-03-01","A04":-10,"A10":0},
{"d":"2022-03-16","A10":0},
{"d":"2022-04-01","A10":0},
{"d":"2022-04-16","A10":0},
{"d":"2022-05-01","A10":0},
{"d":"2022-05-16","A10":0},
{"d":"2022-06-01","A10":0},
{"d":"2022-06-16","A10":0},
{"d":"2022-07-01","A10":0},
{"d":"2022-07-16","A10":0},
{"d":"2022-08-01","A10":0},
{"d":"2022-08-16","A10":0},
{"d":"2022-09-01","A10":0},
{"d":"2022-09-16","A10":0},
{"d":"2022-10-01","A10":0},
{"d":"2022-10-16","A10":0},
{"d":"2022-11-01","A10":0},
{"d":"2022-11-16","A10":0},
{"d":"2022-12-01","A10":0},
{"d":"2022-12-16","A10":0}
          ]},
          "transform": [
            {"fold": ["A04", "A07", "A10"], "as": ["s", "v"]},
            {"filter": "isValid(datum.v)"}
          ],
          "mark": {"type": "point", "filled": false, "size": 3300, "strokeWidth": 2, "opacity": 1},
          "encoding": {
            "x": {
              "field": "d",
              "type": "temporal",
              "scale": {"type": "utc", "domain": [{"year": 1997, "month": 1, "date": 1, "utc": true}, {"year": 2023, "month": 1, "date": 1, "utc": true}], "nice": false},
              "axis": {
                "title": null,
                "values": [
                  {"year": 1997, "month": 1, "date": 1, "utc": true},
                  {"year": 1999, "month": 1, "date": 1, "utc": true},
                  {"year": 2001, "month": 1, "date": 1, "utc": true},
                  {"year": 2003, "month": 1, "date": 1, "utc": true},
                  {"year": 2005, "month": 1, "date": 1, "utc": true},
                  {"year": 2007, "month": 1, "date": 1, "utc": true},
                  {"year": 2009, "month": 1, "date": 1, "utc": true},
                  {"year": 2011, "month": 1, "date": 1, "utc": true},
                  {"year": 2013, "month": 1, "date": 1, "utc": true},
                  {"year": 2015, "month": 1, "date": 1, "utc": true},
                  {"year": 2017, "month": 1, "date": 1, "utc": true},
                  {"year": 2019, "month": 1, "date": 1, "utc": true},
                  {"year": 2021, "month": 1, "date": 1, "utc": true}
                ],
                "format": "%d/%m/%Y",
                "grid": true,
                "labelPadding": 16,
                "labelFlush": false,
                "labelOverlap": false
              }
            },
            "y": {
              "field": "v",
              "type": "quantitative",
              "scale": {"domain": [-100, 700], "nice": false, "zero": false},
              "axis": {
                "title": null,
                "values": [-100, 0, 100, 200, 300, 400, 500, 600, 700],
                "labelExpr": "datum.value < 0 ? '- ' + format(-datum.value, 'd') + '%' : format(datum.value, 'd') + '%'",
                "grid": true,
                "labelPadding": 10,
                "minExtent": 62,
                "maxExtent": 62
              }
            },
            "shape": {
              "field": "s",
              "type": "nominal",
              "scale": {
                "domain": ["A04", "A07", "A10", "0,0%"],
                "range": ["M-0.15,0H0.15M0,-0.15V0.15", "M-0.15,0H0.15M0,-0.15V0.15", "M-0.15,0H0.15M0,-0.15V0.15", "M-1,0H1"]
              }
            },
            "color": {
              "field": "s",
              "type": "nominal",
              "scale": {"domain": ["A04", "A07", "A10", "0,0%"], "range": ["#FFC000", "#0070C0", "#FF0000", "#000000"]},
              "legend": {
                "title": null,
                "orient": "none",
                "legendX": 1233,
                "legendY": 65,
                "fillColor": "white",
                "padding": 4,
                "rowPadding": 17,
                "symbolSize": 1225,
                "symbolStrokeWidth": 2.5,
                "labelOffset": 0,
                "labelFont": "Lato",
                "labelFontSize": 19,
                "labelFontWeight": "bold",
                "labelColor": "#595959",
                "labelLimit": 300,
                "labelExpr": "datum.label == '0,0%' ? datum.label : 'Rendement_' + datum.label"
              }
            },
            "order": {"field": "s", "type": "ordinal"}
          }
        }
      ]
    }
  ]
}
